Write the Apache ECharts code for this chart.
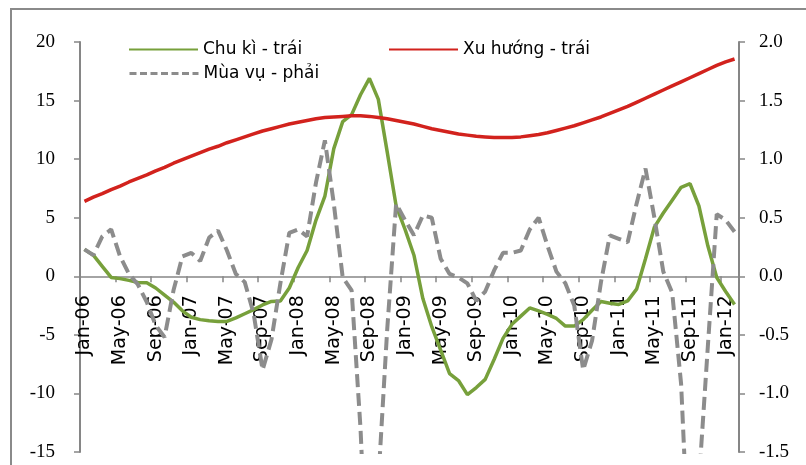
<!DOCTYPE html>
<html>
<head>
<meta charset="utf-8">
<script src="https://cdn.jsdelivr.net/npm/echarts@6/dist/echarts.min.js"></script>
<style>
html,body{margin:0;padding:0;background:#fff;}
#chart{width:806px;height:465px;}
</style>
</head>
<body>
<div id="chart"></div>
<script>
// ---- data ----
const monthNames = ['Jan','Feb','Mar','Apr','May','Jun','Jul','Aug','Sep','Oct','Nov','Dec'];
const startYear = 6;      // 2006
const monthCount = 74;    // Jan-06 .. Feb-12

// Chu kì - trái (left axis)
const cycle = [
  2.3, 1.8, 0.85, -0.1, -0.2, -0.35, -0.53, -0.55, -1.0, -1.6, -2.2, -2.95,
  -3.5, -3.7, -3.8, -3.85, -3.85, -3.55, -3.2, -2.85, -2.45, -2.15, -2.1, -1.0,
  0.75, 2.2, 4.8, 6.85, 10.9, 13.2, 13.8, 15.5, 16.9, 15.1, 10.6, 6.0,
  4.0, 1.8, -1.9, -4.3, -6.3, -8.3, -8.9, -10.1, -9.5, -8.8, -7.1, -5.3,
  -4.1, -3.4, -2.7, -2.95, -3.25, -3.6, -4.25, -4.25, -3.7, -2.9, -2.15, -2.3,
  -2.4, -2.1, -1.1, 1.5, 4.2, 5.4, 6.5, 7.6, 7.9, 6.0, 2.6, -0.1,
  -1.3, -2.4
];

// Xu hướng - trái (left axis)
const trend = [
  6.4, 6.75, 7.05, 7.4, 7.7, 8.05, 8.35, 8.65, 9.0, 9.3, 9.65, 9.95,
  10.25, 10.55, 10.85, 11.1, 11.4, 11.65, 11.9, 12.15, 12.4, 12.6, 12.8, 13.0,
  13.15, 13.3, 13.45, 13.55, 13.6, 13.65, 13.7, 13.7, 13.65, 13.55, 13.45, 13.3,
  13.15, 13.0, 12.8, 12.6, 12.45, 12.3, 12.15, 12.05, 11.95, 11.9, 11.85, 11.85,
  11.85, 11.9, 12.0, 12.1, 12.25, 12.45, 12.65, 12.85, 13.1, 13.35, 13.6, 13.9,
  14.2, 14.5, 14.85, 15.2, 15.55, 15.9, 16.25, 16.6, 16.95, 17.3, 17.65, 18.0,
  18.3, 18.55
];

// Mùa vụ - phải (right axis)
const seasonal = [
  0.23, 0.18, 0.34, 0.4, 0.17, 0.02, -0.07, -0.22, -0.42, -0.52, -0.12, 0.17,
  0.2, 0.13, 0.33, 0.39, 0.22, 0.02, -0.05, -0.32, -0.8, -0.54, -0.06, 0.37,
  0.4, 0.34, 0.8, 1.16, 0.62, -0.01, -0.12, -1.3, -3.0, -1.75, -0.45, 0.62,
  0.48, 0.35, 0.52, 0.5, 0.15, 0.02, -0.01, -0.06, -0.21, -0.13, 0.05, 0.2,
  0.2, 0.22, 0.4, 0.5, 0.26, 0.04, -0.06, -0.25, -0.8, -0.55, -0.05, 0.35,
  0.32, 0.29, 0.62, 0.92, 0.5, 0.04, -0.14, -0.92, -2.6, -1.75, -0.6, 0.53,
  0.48, 0.38
];

const seriesNames = ['Chu kì - trái', 'Xu hướng - trái', 'Mùa vụ - phải'];
const leftTicks = { min: -15, max: 20, interval: 5 };
const rightTicks = { min: -1.5, max: 2.0, interval: 0.5 };

// ---- build categories ----
const categories = [];
for (let i = 0; i < monthCount; i++) {
  const y = startYear + Math.floor(i / 12);
  categories.push(monthNames[i % 12] + '-' + (y < 10 ? '0' + y : '' + y));
}

const W = 806, H = 465;
const gridBox = { left: 80, right: 67, top: 42, bottom: 13 };
const gridH = H - gridBox.top - gridBox.bottom;
// move the category axis up to the zero line of the value axes
const zeroOffset = -gridH * (0 - leftTicks.min) / (leftTicks.max - leftTicks.min);

const axisGrey = '#868686';
const chart = echarts.init(document.getElementById('chart'), null, { renderer: 'canvas' });

const legendText = { fontFamily: 'DejaVu Sans', fontSize: 17, color: '#000' };
const legendCommon = {
  orient: 'horizontal', itemWidth: 69, itemHeight: 14, itemGap: 5, padding: 0,
  textStyle: legendText,
  itemStyle: { opacity: 0, borderWidth: 0 }
};

chart.setOption({
  animation: false,
  backgroundColor: '#fff',
  graphic: [{
    type: 'rect', silent: true, z: 0,
    shape: { x: 11, y: 9, width: 820, height: 480 },
    style: { fill: 'none', stroke: '#8a8a8a', lineWidth: 2 }
  }],
  grid: Object.assign({ containLabel: false, outerBoundsMode: 'none' }, gridBox),
  legend: [
    Object.assign({ data: [seriesNames[0]], left: 128, top: 41 }, legendCommon),
    Object.assign({ data: [seriesNames[2]], left: 128, top: 65,
      lineStyle: { type: [7, 3.5], width: 3 } }, legendCommon),
    Object.assign({ data: [seriesNames[1]], left: 388, top: 41 }, legendCommon)
  ],
  xAxis: {
    type: 'category',
    data: categories,
    boundaryGap: true,
    position: 'bottom',
    offset: zeroOffset,
    axisLine: { show: true, onZero: false, lineStyle: { color: axisGrey, width: 1.5 } },
    axisTick: { show: true, interval: 3, length: 6, lineStyle: { color: axisGrey, width: 1.5 } },
    axisLabel: { interval: 3, rotate: 90, margin: 19, fontFamily: 'DejaVu Sans', fontSize: 19, color: '#000' },
    splitLine: { show: false }
  },
  yAxis: [{
    type: 'value',
    position: 'left',
    min: leftTicks.min, max: leftTicks.max, interval: leftTicks.interval,
    axisLine: { show: true, lineStyle: { color: axisGrey, width: 2 } },
    axisTick: { show: true, length: 6, lineStyle: { color: axisGrey, width: 1.5 } },
    axisLabel: { margin: 25, fontFamily: 'Liberation Serif', fontSize: 19, color: '#000',
      formatter: v => String(v) },
    splitLine: { show: false }
  }, {
    type: 'value',
    position: 'right',
    min: rightTicks.min, max: rightTicks.max, interval: rightTicks.interval,
    axisLine: { show: true, lineStyle: { color: axisGrey, width: 2 } },
    axisTick: { show: true, length: 6, lineStyle: { color: axisGrey, width: 1.5 } },
    axisLabel: { margin: 20, fontFamily: 'Liberation Serif', fontSize: 19, color: '#000',
      formatter: v => v.toFixed(1) },
    splitLine: { show: false }
  }],
  series: [{
    name: seriesNames[0], type: 'line', yAxisIndex: 0, data: cycle,
    symbol: 'none', clip: true,
    lineStyle: { color: '#77a03b', width: 3.5 }, itemStyle: { color: '#77a03b' }
  }, {
    name: seriesNames[1], type: 'line', yAxisIndex: 0, data: trend,
    symbol: 'none', clip: true,
    lineStyle: { color: '#d2221d', width: 3.5 }, itemStyle: { color: '#d2221d' }
  }, {
    name: seriesNames[2], type: 'line', yAxisIndex: 1, data: seasonal,
    symbol: 'none', clip: true,
    lineStyle: { color: '#8c8c8c', width: 4, type: [13, 6] }, itemStyle: { color: '#8c8c8c' }
  }]
});
</script>
</body>
</html>
